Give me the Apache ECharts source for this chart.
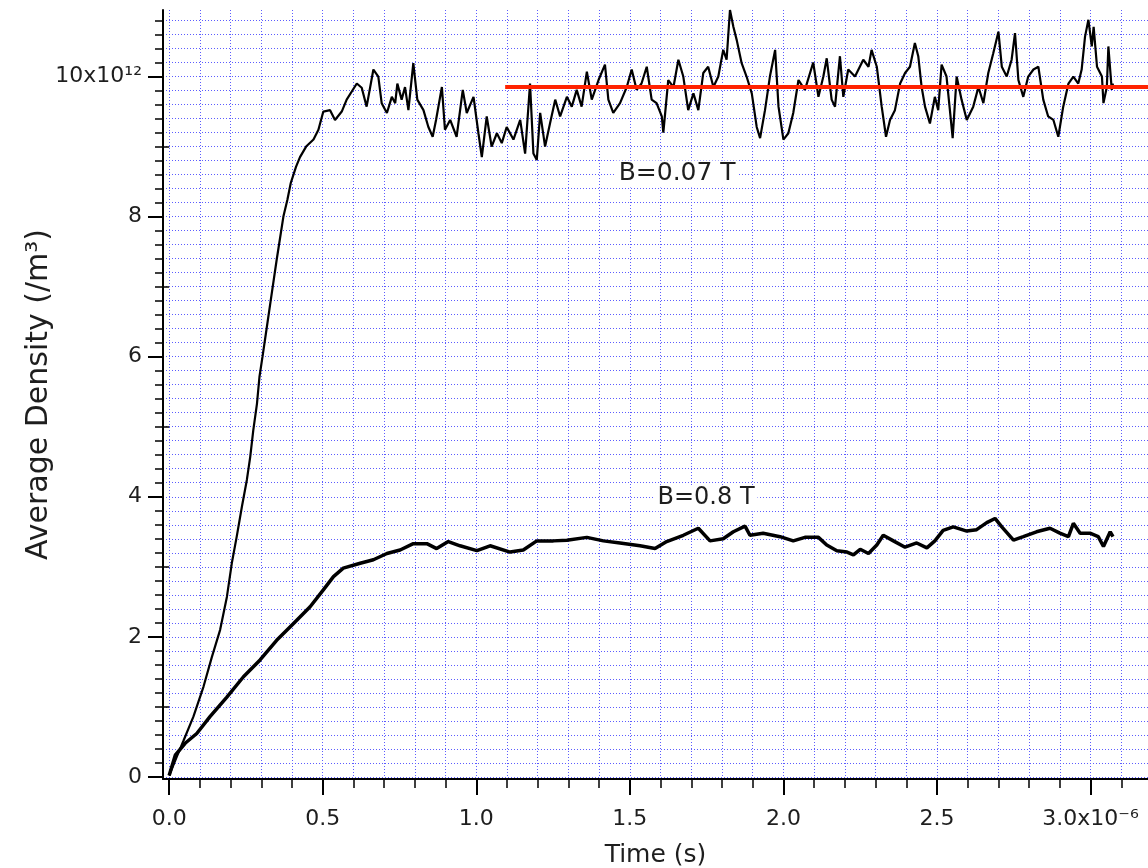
<!DOCTYPE html>
<html><head><meta charset="utf-8">
<script src="https://cdn.jsdelivr.net/npm/echarts@6/dist/echarts.min.js"></script>
<style>html,body{margin:0;padding:0;background:#fff}#c{width:1148px;height:868px}</style>
</head><body><div id="c"></div>
<script>
// Time in units of 1e-6 s, density in units of 1e12 /m^3
const t1 = [0,0.025,0.047,0.079,0.112,0.139,0.166,0.188,0.204,0.220,0.237,0.253,0.264,0.274,0.286,0.294,0.304,0.313,0.331,0.350,0.372,0.385,0.396,0.413,0.426,0.446,0.470,0.486,0.502,0.524,0.540,0.562,0.578,0.611,0.627,0.643,0.665,0.681,0.692,0.709,0.725,0.736,0.743,0.757,0.768,0.779,0.795,0.808,0.828,0.844,0.858,0.869,0.888,0.898,0.915,0.936,0.956,0.969,0.991,1.007,1.018,1.034,1.050,1.067,1.083,1.099,1.121,1.143,1.159,1.175,1.186,1.197,1.208,1.224,1.240,1.257,1.273,1.295,1.311,1.327,1.343,1.360,1.376,1.398,1.419,1.430,1.446,1.468,1.490,1.506,1.522,1.538,1.555,1.571,1.587,1.604,1.609,1.625,1.642,1.658,1.674,1.690,1.707,1.723,1.739,1.755,1.772,1.788,1.804,1.815,1.826,1.837,1.848,1.864,1.880,1.897,1.913,1.924,1.940,1.956,1.973,1.984,2.000,2.016,2.032,2.049,2.070,2.097,2.114,2.130,2.141,2.157,2.168,2.184,2.195,2.211,2.233,2.260,2.277,2.287,2.304,2.320,2.334,2.347,2.363,2.380,2.396,2.412,2.428,2.439,2.450,2.461,2.477,2.493,2.504,2.515,2.531,2.542,2.551,2.564,2.580,2.597,2.618,2.635,2.651,2.667,2.683,2.700,2.711,2.727,2.743,2.754,2.765,2.781,2.797,2.814,2.830,2.846,2.862,2.879,2.895,2.911,2.928,2.944,2.960,2.971,2.982,2.993,3.004,3.010,3.021,3.037,3.042,3.053,3.058,3.069,3.073];
const v1 = [0.02,0.29,0.52,0.86,1.29,1.71,2.10,2.57,3.05,3.43,3.86,4.24,4.57,4.95,5.33,5.71,6.0,6.27,6.81,7.38,8.0,8.24,8.48,8.71,8.85,9.0,9.1,9.24,9.5,9.52,9.38,9.5,9.67,9.9,9.84,9.57,10.1,10.0,9.62,9.48,9.71,9.62,9.9,9.67,9.85,9.52,10.19,9.67,9.52,9.28,9.14,9.38,9.85,9.24,9.38,9.14,9.81,9.48,9.71,9.19,8.85,9.43,9.0,9.19,9.05,9.28,9.1,9.38,8.9,9.9,8.9,8.81,9.48,9.0,9.33,9.67,9.43,9.71,9.57,9.81,9.57,10.07,9.67,9.95,10.17,9.67,9.48,9.62,9.85,10.1,9.81,9.9,10.14,9.67,9.62,9.43,9.2,9.95,9.85,10.24,10.0,9.52,9.76,9.52,10.05,10.14,9.85,10.0,10.38,10.24,10.95,10.71,10.52,10.19,10.0,9.76,9.28,9.12,9.52,10.0,10.38,9.57,9.1,9.19,9.48,9.95,9.81,10.2,9.71,10.0,10.26,9.67,9.57,10.29,9.71,10.1,10.0,10.24,10.14,10.38,10.14,9.57,9.14,9.38,9.52,9.9,10.05,10.14,10.48,10.29,9.85,9.57,9.33,9.71,9.52,10.17,10.0,9.52,9.12,10.0,9.67,9.38,9.57,9.85,9.62,10.05,10.33,10.64,10.14,10.0,10.24,10.62,9.95,9.71,10.0,10.1,10.14,9.67,9.43,9.38,9.14,9.57,9.9,10.0,9.9,10.1,10.57,10.81,10.43,10.71,10.14,10.0,9.62,9.85,10.43,9.81,9.9];

const t2 = [0,0.020,0.052,0.090,0.133,0.188,0.242,0.296,0.350,0.405,0.459,0.502,0.535,0.567,0.622,0.665,0.709,0.752,0.795,0.839,0.871,0.909,0.947,1.002,1.045,1.110,1.153,1.197,1.251,1.295,1.360,1.414,1.468,1.533,1.582,1.620,1.674,1.723,1.761,1.804,1.837,1.875,1.891,1.934,1.989,2.032,2.070,2.114,2.141,2.174,2.207,2.228,2.250,2.277,2.304,2.325,2.358,2.396,2.434,2.467,2.493,2.520,2.553,2.597,2.629,2.662,2.689,2.711,2.749,2.781,2.824,2.868,2.900,2.928,2.944,2.966,2.998,3.025,3.042,3.064,3.073];
const v2 = [0.02,0.31,0.48,0.62,0.86,1.14,1.43,1.67,1.95,2.19,2.43,2.67,2.86,2.98,3.05,3.10,3.19,3.24,3.33,3.33,3.26,3.36,3.30,3.23,3.30,3.21,3.24,3.37,3.37,3.38,3.42,3.37,3.34,3.30,3.26,3.36,3.45,3.55,3.37,3.40,3.50,3.58,3.45,3.48,3.43,3.37,3.42,3.42,3.31,3.23,3.21,3.17,3.25,3.19,3.31,3.45,3.37,3.28,3.34,3.27,3.37,3.52,3.57,3.51,3.53,3.63,3.69,3.57,3.38,3.43,3.50,3.55,3.48,3.43,3.62,3.48,3.48,3.43,3.29,3.50,3.43];

// red reference level
const refT = [1.094, 3.187];
const refV = [9.85, 9.85];

// annotations: [t, value, text]
const notes = [[1.654, 8.61, 'B=0.07 T'], [1.748, 3.98, 'B=0.8 T']];

const xMajorTicks = [0, 0.5, 1.0, 1.5, 2.0, 2.5, 3.0];
const xTickLabels = ['0.0', '0.5', '1.0', '1.5', '2.0', '2.5', '3.0x10⁻⁶'];
const yMajorTicks = [0, 2, 4, 6, 8, 10];
const yTickLabels = ['0', '2', '4', '6', '8', '10x10¹²'];
const yMidTicks = [1, 3, 5, 7, 9];

const zip = (a, b) => a.map((x, i) => [x, b[i]]);
const FONT = 'DejaVu Sans';
const TXT = '#1e1e1e';
const GRIDC = '#5c5cff';
const gridLine = () => ({show: true, lineStyle: {color: GRIDC, width: 1, opacity: 1, type: [1, 2]}});
const pick = (ticks, labels, v) => {
  const i = ticks.findIndex(x => Math.abs(x - v) < 1e-6);
  return i >= 0 ? labels[i] : '';
};

const chart = echarts.init(document.getElementById('c'), null, {renderer: 'canvas'});
chart.setOption({
  animation: false,
  backgroundColor: '#fff',
  grid: {left: 163, right: 0, top: 10, bottom: 89, containLabel: false, outerBoundsMode: 'none'},
  xAxis: [{
    type: 'value', min: -0.02, max: 3.187, minInterval: 0.5, maxInterval: 0.5,
    axisLine: {show: true, onZero: false, lineStyle: {color: '#000', width: 2}},
    axisTick: {show: true, length: 16, customValues: xMajorTicks, lineStyle: {color: '#000', width: 2}},
    minorTick: {show: true, splitNumber: 5, length: 9, lineStyle: {color: '#000', width: 1.5}},
    axisLabel: {
      customValues: xMajorTicks, margin: 29, fontFamily: FONT, fontSize: 22, color: TXT,
      formatter: v => pick(xMajorTicks, xTickLabels, v)
    },
    splitLine: gridLine(),
    minorSplitLine: gridLine(),
    name: 'Time (s)', nameLocation: 'middle', nameGap: 64, nameMoveOverlap: false,
    nameTextStyle: {fontFamily: FONT, fontSize: 25, color: TXT, verticalAlign: 'top'}
  }],
  yAxis: [{
    type: 'value', min: -0.03, max: 10.95, minInterval: 2, maxInterval: 2,
    axisLine: {show: true, onZero: false, lineStyle: {color: '#000', width: 2}},
    axisTick: {show: true, length: 15, customValues: yMajorTicks, lineStyle: {color: '#000', width: 2}},
    minorTick: {show: true, splitNumber: 10, length: 8, lineStyle: {color: '#000', width: 1.5}},
    axisLabel: {
      customValues: yMajorTicks, margin: 21, fontFamily: FONT, fontSize: 22, color: TXT,
      formatter: v => pick(yMajorTicks, yTickLabels, v)
    },
    splitLine: gridLine(),
    minorSplitLine: gridLine(),
    name: 'Average Density (/m³)', nameLocation: 'middle', nameGap: 109, nameRotate: 90, nameMoveOverlap: false,
    nameTextStyle: {fontFamily: FONT, fontSize: 30, color: TXT}
  }, {
    type: 'value', min: -0.03, max: 10.95, position: 'left',
    axisLine: {show: false}, axisLabel: {show: false}, splitLine: {show: false}, minorSplitLine: {show: false},
    axisTick: {show: true, length: 11, customValues: yMidTicks, lineStyle: {color: '#000', width: 1.5}}
  }],
  series: [{
    type: 'line', data: zip(t1, v1), showSymbol: false, symbol: 'none',
    lineStyle: {color: '#000', width: 2.2}, z: 3,
    markPoint: {
      symbol: 'rect', symbolSize: 1, itemStyle: {color: 'rgba(0,0,0,0)'},
      label: {show: true, position: 'inside', formatter: '{b}', fontFamily: FONT, fontSize: 25, color: TXT, backgroundColor: '#fff', padding: [1, 3]},
      data: [{coord: [notes[0][0], notes[0][1]], name: notes[0][2]}]
    }
  }, {
    type: 'line', data: zip(t2, v2), showSymbol: false, symbol: 'none',
    lineStyle: {color: '#000', width: 3.5}, z: 3,
    markPoint: {
      symbol: 'rect', symbolSize: 1, itemStyle: {color: 'rgba(0,0,0,0)'},
      label: {show: true, position: 'inside', formatter: '{b}', fontFamily: FONT, fontSize: 24, color: TXT, backgroundColor: '#fff', padding: [1, 3]},
      data: [{coord: [notes[1][0], notes[1][1]], name: notes[1][2]}]
    }
  }, {
    type: 'line', data: zip(refT, refV), showSymbol: false, symbol: 'none',
    lineStyle: {color: '#ff2200', width: 4}, z: 4
  }]
});
</script>
</body></html>
